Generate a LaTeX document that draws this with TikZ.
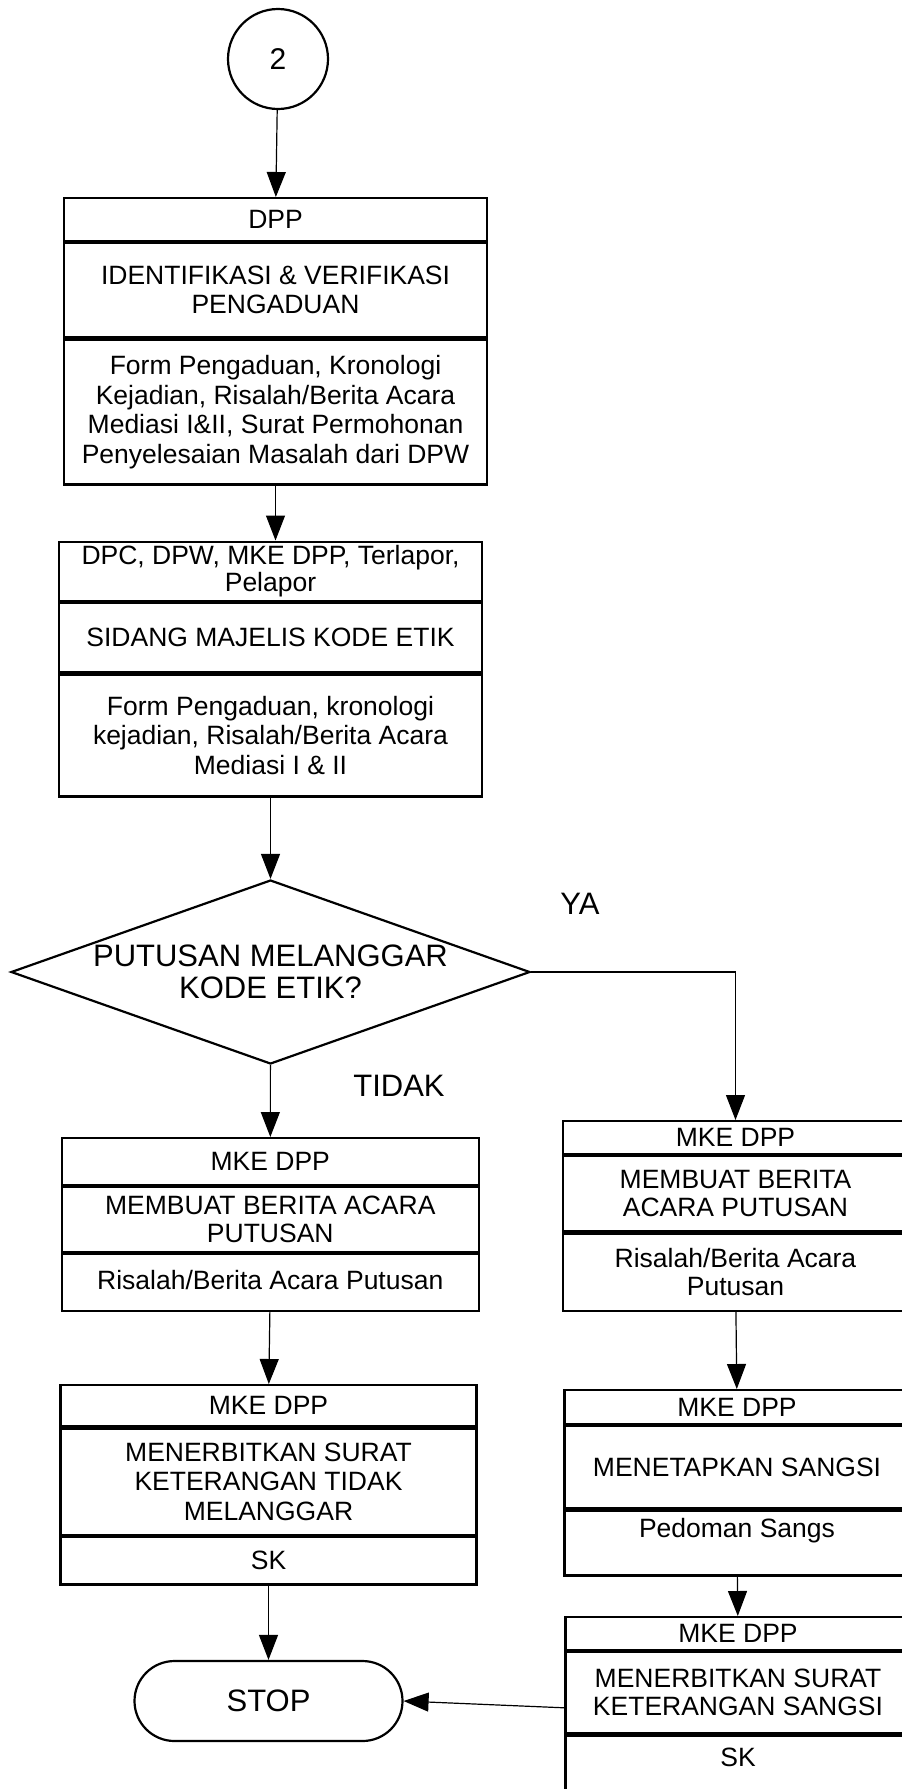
\documentclass[tikz,border=0pt]{standalone}
\usepackage{fontspec}
\setmainfont{Liberation Sans}
\usetikzlibrary{shapes.geometric,arrows.meta}

\begin{document}
\begin{tikzpicture}[x=1pt, y=-1pt,
  cell/.style = {draw, line width=2.2pt, inner sep=0pt, align=center, anchor=north, font=\fontsize{26.5}{29.5}\selectfont},
  flow/.style = {draw, line width=1.2pt, -{Triangle[length=25pt, width=19pt]}},
  bigtxt/.style = {align=center, font=\fontsize{31}{32}\selectfont}]
\useasboundingbox (0,0) rectangle (902,1789);
\clip (0,0) rectangle (902,1789);

\node[circle, draw, line width=2.2pt, minimum size=100pt, inner sep=0pt, font=\fontsize{30}{32}\selectfont] (c2) at (278,59) {2};

\node[cell, minimum width=423pt, minimum height=42.5pt] (b1a) at (275.5,197) {DPP};
\node[cell, minimum width=423pt, minimum height=94.5pt] (b1b) at (b1a.south) {IDENTIFIKASI \& VERIFIKASI\\PENGADUAN};
\node[cell, minimum width=423pt, minimum height=145pt] (b1c) at (b1b.south) {Form Pengaduan, Kronologi\\Kejadian, Risalah/Berita Acara\\Mediasi I\&II, Surat Permohonan\\Penyelesaian Masalah dari DPW};

\node[cell, minimum width=423pt, minimum height=59.5pt, font=\fontsize{26.5}{27.5}\selectfont] (b2a) at (270.5,540.5) {DPC, DPW, MKE DPP, Terlapor,\\Pelapor};
\node[cell, minimum width=423pt, minimum height=69pt] (b2b) at (b2a.south) {SIDANG MAJELIS KODE ETIK};
\node[cell, minimum width=423pt, minimum height=122pt] (b2c) at (b2b.south) {Form Pengaduan, kronologi\\kejadian, Risalah/Berita Acara\\Mediasi I \& II};

\node[diamond, draw, line width=2.2pt, minimum width=519pt, minimum height=184pt, inner sep=0pt] (dec) at (270.5,972) {};
\node[bigtxt] (dectxt) at (dec.center) {PUTUSAN MELANGGAR\\KODE ETIK?};
\node[bigtxt] (ya) at (580,904) {YA};
\node[bigtxt] (tidak) at (399,1086) {TIDAK};

\node[cell, minimum width=417pt, minimum height=47pt] (l1a) at (270.3,1137) {MKE DPP};
\node[cell, minimum width=417pt, minimum height=64.6pt, font=\fontsize{26.5}{28}\selectfont] (l1b) at (l1a.south) {MEMBUAT BERITA ACARA\\PUTUSAN};
\node[cell, minimum width=417pt, minimum height=57pt] (l1c) at (l1b.south) {\raisebox{6pt}{Risalah/Berita Acara Putusan}};

\node[cell, minimum width=416pt, minimum height=41.4pt] (l2a) at (268.5,1384) {MKE DPP};
\node[cell, minimum width=416pt, minimum height=106pt] (l2b) at (l2a.south) {MENERBITKAN SURAT\\KETERANGAN TIDAK\\MELANGGAR};
\node[cell, minimum width=416pt, minimum height=47.6pt] (l2c) at (l2b.south) {SK};

\node[draw, line width=2.2pt, rounded corners=40pt, minimum width=268pt, minimum height=80pt, bigtxt] (stop) at (268.5,1701) {STOP};

\node[cell, minimum width=345pt, minimum height=33pt] (r1a) at (735.5,1120) {MKE DPP};
\node[cell, minimum width=345pt, minimum height=75pt, font=\fontsize{26.5}{28}\selectfont] (r1b) at (r1a.south) {MEMBUAT BERITA\\ACARA PUTUSAN};
\node[cell, minimum width=345pt, minimum height=77.6pt, font=\fontsize{26.5}{28}\selectfont] (r1c) at (r1b.south) {Risalah/Berita Acara\\Putusan};

\node[cell, minimum width=345pt, minimum height=34pt] (r2a) at (737,1389) {MKE DPP};
\node[cell, minimum width=345pt, minimum height=82pt] (r2b) at (r2a.south) {MENETAPKAN SANGSI};
\node[cell, minimum width=345pt, minimum height=65pt] (r2c) at (r2b.south) {\raisebox{31pt}{Pedoman Sangs}};

\node[cell, minimum width=345pt, minimum height=33pt] (r3a) at (738,1616) {MKE DPP};
\node[cell, minimum width=345pt, minimum height=81pt, font=\fontsize{26.5}{28}\selectfont] (r3b) at (r3a.south) {MENERBITKAN SURAT\\KETERANGAN SANGSI};
\node[cell, minimum width=345pt, minimum height=80pt] (r3c) at (r3b.south) {\raisebox{36pt}{SK}};

\draw[flow] (c2) -- (b1a);
\draw[flow] (b1c.south) -- (b1c.south |- b2a.north);
\draw[flow] (b2c) -- (dec);
\draw[flow] (dec) -- (l1a);
\draw[flow] (dec.east) -| (r1a.north);
\draw[flow] (l1c) -- (l2a);
\draw[flow] (l2c) -- (stop);
\draw[flow] (r1c) -- (r2a);
\draw[flow] (r2c) -- (r3a);
\draw[flow] ([yshift=-15pt]r3b.west) -- (stop.east);
\end{tikzpicture}
\end{document}
